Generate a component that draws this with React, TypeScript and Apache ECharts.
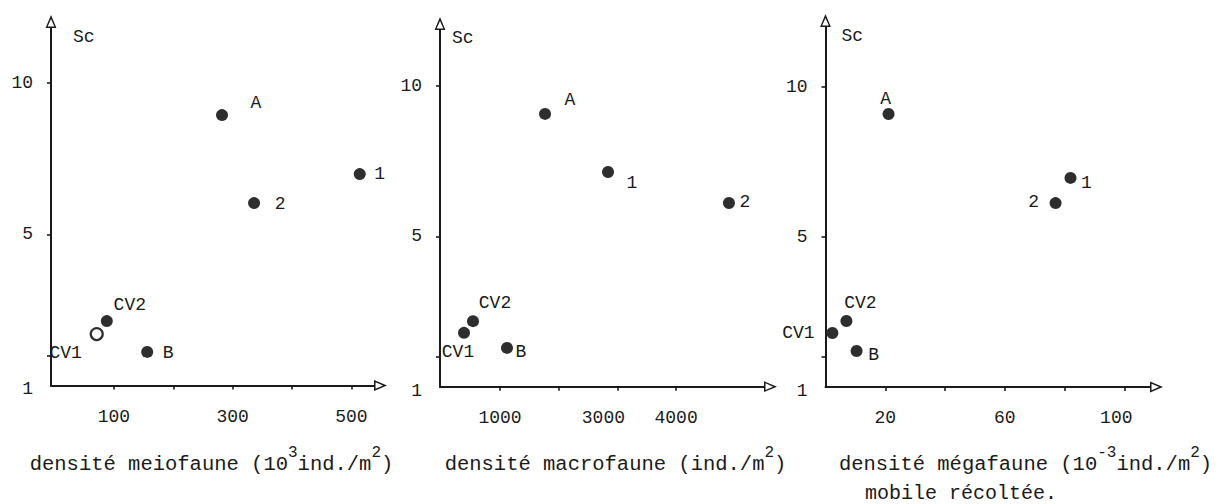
import React, { useEffect, useRef } from 'react';
import * as echarts from 'echarts';

// ---------- data ----------
const stations = ['A', '1', '2', 'CV2', 'CV1', 'B'];

const meioDensity = [282, 514, 336, 88, 71, 156]; // 10^3 ind./m2
const meioSc = [8.94, 6.99, 6.03, 2.13, 1.7, 1.11];

const macroDensity = [1767, 2840, 4900, 540, 387, 1119]; // ind./m2
const macroSc = [9.07, 7.14, 6.11, 2.18, 1.79, 1.29];

const megaDensity = [21.1, 82.0, 77.0, 7.0, 2.3, 10.4]; // 10^-3 ind./m2
const megaSc = [9.1, 6.97, 6.13, 2.2, 1.8, 1.2];

const scTicks = [1, 5, 10];
const scLabels = [1, 5, 10];
const meioTicks = [100, 200, 300, 400, 500];
const meioLabels = [100, 300, 500];
const macroTicks = [1000, 2000, 3000, 4000];
const macroLabels = [1000, 3000, 4000];
const megaTicks = [20, 40, 60, 80, 100];
const megaLabels = [20, 60, 100];

const xTitles = [
  '{t|densité meiofaune (10}{s|3}{t|ind./m}{s|2}{t|)}',
  '{t|densité macrofaune (ind./m}{s|2}{t|)}',
  '{t|densité mégafaune (10}{s|-3}{t|ind./m}{s|2}{t|)}',
];
const xSubTitle = 'mobile récoltée.';
const yName = 'Sc';

// ---------- styling / layout ----------
const INK = '#1a1a1a';
const DOT = '#2e2e2e';
const FONT = "'Liberation Mono', 'DejaVu Sans Mono', monospace";
const ARROW = 'path://M5,0L10,12L0,12Z M5,3.6L1.9,10.6L8.1,10.6Z';

const panels = [
  {
    xs: meioDensity, ys: meioSc, xTicks: meioTicks, xLabels: meioLabels,
    grid: { left: 51, top: 28, width: 323, height: 357.5 },
    xMin: -6, xMax: 538, yMax: 11.82, nameDx: 22, nameGap: -9,
    offsets: [[34, -12], [20, 0], [26, 1], [23, -16], [-31, 19], [21, 1]],
    titleX: 211.5,
  },
  {
    xs: macroDensity, ys: macroSc, xTicks: macroTicks, xLabels: macroLabels,
    grid: { left: 440, top: 30, width: 324, height: 356.7 },
    xMin: -22, xMax: 5497, yMax: 11.86, nameDx: 12, nameGap: -8,
    offsets: [[25, -14], [24, 11], [16, -1], [22, -18], [-6, 19], [14, 4]],
    titleX: 615.5,
  },
  {
    xs: megaDensity, ys: megaSc, xTicks: megaTicks, xLabels: megaLabels,
    grid: { left: 825.5, top: 27, width: 324.5, height: 360 },
    xMin: 0, xMax: 108.6, yMax: 12.0, nameDx: 16, nameGap: -9,
    offsets: [[-3, -15], [16, 5], [-22, -1], [14, -18], [-34, 0], [17, 4]],
    titleX: 1025.5,
  },
];

// hand-typed label nudges in the original
const xLabelShift: Record<string, number> = { '3000': 28, '100_2': 16 };

const axisLine = {
  onZero: false,
  symbol: ['none', ARROW],
  symbolSize: [11, 13],
  symbolOffset: [0, 6.5],
  lineStyle: { color: INK, width: 2 },
};

const titleRich = {
  t: { fontFamily: FONT, fontSize: 20.5, fontWeight: 'normal', lineHeight: 30, verticalAlign: 'bottom', color: INK },
  s: { fontFamily: FONT, fontSize: 16, fontWeight: 'normal', lineHeight: 6, verticalAlign: 'top', color: INK },
  m: { fontFamily: FONT, fontSize: 20, fontWeight: 'normal', lineHeight: 18, verticalAlign: 'middle', color: INK },
};

function buildOption() {
  const grid = panels.map((p) => ({ ...p.grid, containLabel: false }));
  const xAxis = panels.map((p, i) => ({
    type: 'value',
    gridIndex: i,
    min: p.xMin,
    max: p.xMax,
    axisLine,
    splitLine: { show: false },
    axisTick: { show: true, customValues: p.xTicks, length: 4, lineStyle: { color: INK, width: 1.6 } },
    axisLabel: {
      customValues: p.xLabels,
      margin: 22,
      fontFamily: FONT,
      fontSize: 18,
      color: INK,
      formatter: (v: number) => {
        const key = i === 2 && v === 100 ? '100_2' : String(v);
        return xLabelShift[key] ? `{sh${key}|${v}}` : String(v);
      },
      rich: {
        sh3000: { fontFamily: FONT, fontSize: 18, color: INK, padding: [0, xLabelShift['3000'], 0, 0] },
        sh100_2: { fontFamily: FONT, fontSize: 18, color: INK, padding: [0, xLabelShift['100_2'], 0, 0] },
      },
    },
  }));
  const yAxis = panels.map((p, i) => ({
    type: 'value',
    gridIndex: i,
    min: 0,
    max: p.yMax,
    name: yName,
    nameLocation: 'end',
    nameGap: p.nameGap,
    nameTextStyle: {
      fontFamily: FONT, fontSize: 18, color: INK, align: 'left', verticalAlign: 'middle',
      padding: [0, 0, 0, p.nameDx],
    },
    axisLine,
    splitLine: { show: false },
    axisTick: { show: true, customValues: scTicks, length: 4, lineStyle: { color: INK, width: 1.6 } },
    axisLabel: {
      customValues: scLabels,
      margin: 18,
      fontFamily: FONT,
      fontSize: 18,
      color: INK,
      formatter: (v: number) => (v === 1 ? '{low|1}' : String(v)),
      rich: { low: { fontFamily: FONT, fontSize: 18, color: INK, padding: [68, 0, 0, 0] } },
    },
  }));
  const series = panels.map((p, i) => ({
    type: 'scatter',
    xAxisIndex: i,
    yAxisIndex: i,
    symbol: 'circle',
    symbolSize: 12,
    itemStyle: { color: DOT, opacity: 1 },
    label: {
      show: true,
      position: 'inside',
      formatter: '{b}',
      fontFamily: FONT,
      fontSize: 18,
      color: INK,
    },
    data: stations.map((s, k) => ({
      name: s,
      value: [p.xs[k], p.ys[k]],
      label: { offset: p.offsets[k] },
      itemStyle: i === 0 && s === 'CV1'
        ? { color: '#ffffff', borderColor: DOT, borderWidth: 2.2 }
        : undefined,
    })),
  }));
  const title = [
    ...panels.map((p, i) => ({
      text: xTitles[i],
      left: p.titleX,
      top: 444.5,
      textAlign: 'center',
      padding: 0,
      textStyle: { fontWeight: 'normal', rich: titleRich },
    })),
    {
      text: `{m|${xSubTitle}}`,
      left: 961,
      top: 484,
      textAlign: 'center',
      padding: 0,
      textStyle: { fontWeight: 'normal', rich: titleRich },
    },
  ];
  return {
    animation: false,
    backgroundColor: '#ffffff',
    title,
    grid,
    xAxis,
    yAxis,
    series,
  };
}

export default function App() {
  const ref = useRef<HTMLDivElement>(null);
  useEffect(() => {
    const chart = echarts.init(ref.current as HTMLDivElement, null, { renderer: 'svg' });
    chart.setOption(buildOption() as any);
    return () => chart.dispose();
  }, []);
  return (
    <div
      ref={ref}
      style={{ position: 'fixed', left: 0, top: 0, width: 1221, height: 504, background: '#fff' }}
    />
  );
}
